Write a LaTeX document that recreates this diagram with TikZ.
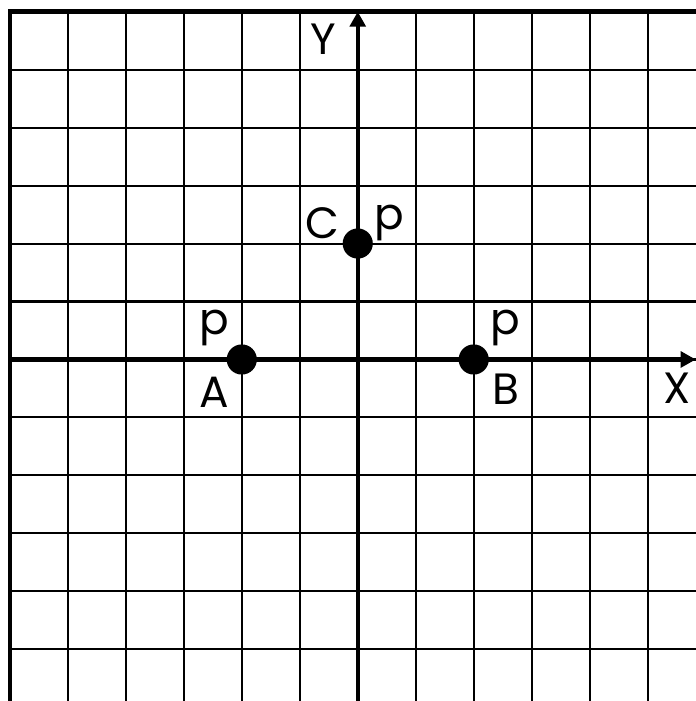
\documentclass[tikz,border=0pt]{standalone}
\usepackage{fontspec}
\setmainfont{Poppins}
\usetikzlibrary{arrows.meta}

\begin{document}
\begin{tikzpicture}[
	dot/.style={circle,fill=black,inner sep=0pt,minimum size=0.52cm},
	lbl/.style={font=\fontsize{21.5}{24}\selectfont,inner sep=0pt,anchor=base}]
	\useasboundingbox (-6.17,-5.89) rectangle (5.83,6.2);
	
	\foreach \x in {-5,...,5}
	{
		\draw[line width=1pt] (\x,-5.89) -- (\x,6);
	}
	\foreach \y in {-5,...,5}
	{
		\draw[line width=1pt] (-6,\y) -- (5.83,\y);
	}
	\draw[line width=2.2pt] (-6,-5.89) -- (-6,6) -- (5.83,6);
	
	\coordinate (xstart) at (-6,0);
	\coordinate (xend) at (5.83,0);
	\coordinate (ystart) at (0,-5.89);
	\coordinate (yend) at (0,6);
	\draw[line width=2pt,-{Triangle[length=0.26cm,width=0.27cm]}] (xstart) -- (xend);
	\draw[line width=2pt,-{Triangle[length=0.26cm,width=0.27cm]}] (ystart) -- (yend);
	
	\node[dot] (A) at (-2,0) {};
	\node[dot] (B) at (2,0) {};
	\node[dot] (C) at (0,2) {};
	
	\node[lbl] (nameA) at (-2.47,-0.83) {A};
	\node[lbl] (pA) at (-2.47,0.43) {p};
	\node[lbl] (nameB) at (2.55,-0.78) {B};
	\node[lbl] (pB) at (2.55,0.43) {p};
	\node[lbl] (nameC) at (-0.61,2.09) {C};
	\node[lbl] (pC) at (0.55,2.24) {p};
	\node[lbl] (nameX) at (5.5,-0.76) {X};
	\node[lbl] (nameY) at (-0.6,5.26) {Y};
\end{tikzpicture}
\end{document}
